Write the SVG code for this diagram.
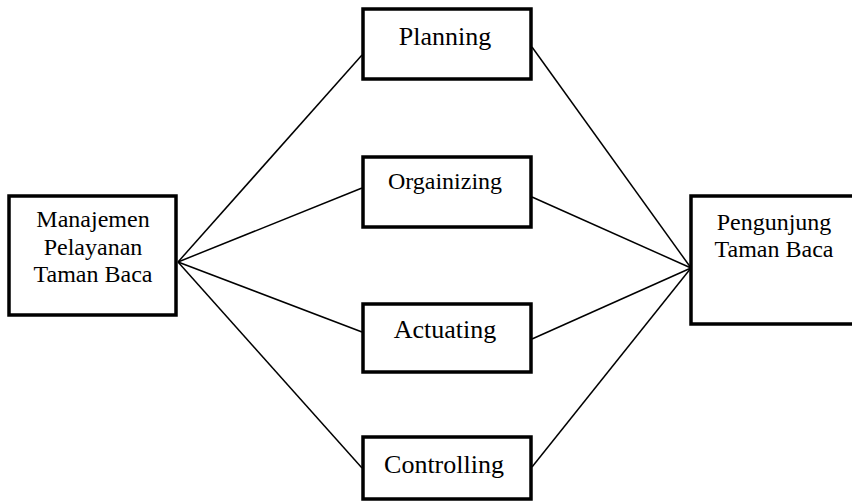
<svg xmlns="http://www.w3.org/2000/svg" width="852" height="501" viewBox="0 0 852 501">
<style>
.box{fill:#fff;stroke:#000;stroke-width:3.5}
.t{font-family:"Liberation Serif","Times New Roman",serif;font-size:24px;fill:#000;text-anchor:middle}
.big{font-size:26px}
.c line{stroke:#000;stroke-width:1.5}
</style>
<rect width="852" height="501" fill="#fff"/>
<g class="c" id="connectors">
<line x1="178" y1="262" x2="362" y2="55"/>
<line x1="178" y1="262" x2="362" y2="188"/>
<line x1="178" y1="262" x2="362" y2="332"/>
<line x1="178" y1="262" x2="362" y2="468"/>
<line x1="532" y1="47" x2="691" y2="268"/>
<line x1="532" y1="197" x2="691" y2="268"/>
<line x1="532" y1="339" x2="691" y2="268"/>
<line x1="532" y1="467" x2="691" y2="268"/>
</g>
<g id="manajemen">
<rect class="box" x="9" y="196" width="167" height="119"/>
<text class="t" x="93" y="227">Manajemen</text>
<text class="t" x="93" y="255">Pelayanan</text>
<text class="t" x="93" y="282">Taman Baca</text>
</g>
<g id="planning">
<rect class="box" x="363" y="9" width="168" height="70"/>
<text class="t big" x="445" y="45">Planning</text>
</g>
<g id="organizing">
<rect class="box" x="363" y="157" width="168" height="70"/>
<text class="t" x="445" y="189">Orgainizing</text>
</g>
<g id="actuating">
<rect class="box" x="363" y="304" width="168" height="68"/>
<text class="t big" x="445" y="338">Actuating</text>
</g>
<g id="controlling">
<rect class="box" x="363" y="437" width="168" height="62"/>
<text class="t big" x="444" y="473">Controlling</text>
</g>
<g id="pengunjung">
<rect class="box" x="691" y="196" width="170" height="128"/>
<text class="t" x="774" y="230">Pengunjung</text>
<text class="t" x="774" y="257">Taman Baca</text>
</g>
</svg>
